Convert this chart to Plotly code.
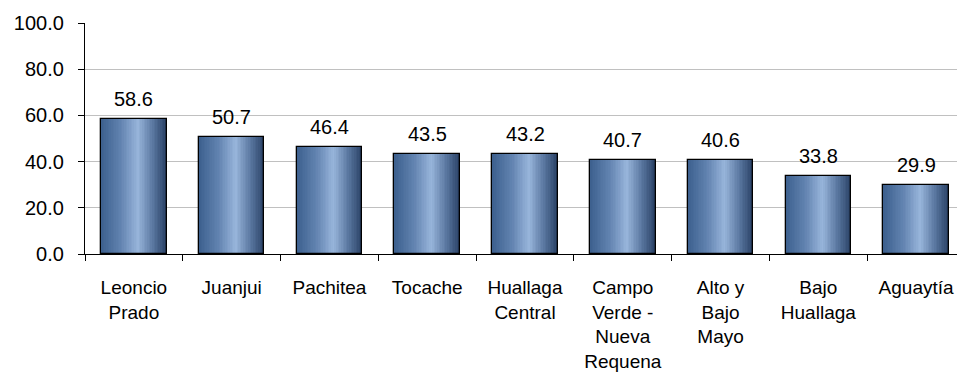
import plotly.graph_objects as go

categories = ["Leoncio<br>Prado", "Juanjui", "Pachitea", "Tocache", "Huallaga<br>Central",
              "Campo<br>Verde -<br>Nueva<br>Requena", "Alto y<br>Bajo<br>Mayo", "Bajo<br>Huallaga", "Aguaytía"]
values = [58.6, 50.7, 46.4, 43.5, 43.2, 40.7, 40.6, 33.8, 29.9]
y_ticks = [0, 20, 40, 60, 80, 100]

FONT = "Liberation Sans, Arial, sans-serif"
FS = 20
BAR_W = 0.67
N = 40
stops = [(0.0, (60, 96, 142)), (0.3, (98, 131, 176)), (0.56, (152, 181, 219)),
         (0.78, (92, 121, 162)), (1.0, (40, 64, 100))]

def grad(t):
    for (t0, c0), (t1, c1) in zip(stops[:-1], stops[1:]):
        if t0 <= t <= t1:
            f = (t - t0) / (t1 - t0)
            return "rgb(%d,%d,%d)" % tuple(round(a + (b - a) * f) for a, b in zip(c0, c1))
    return "rgb(%d,%d,%d)" % stops[-1][1]

fig = go.Figure()
step = BAR_W / N
for k in range(N):
    fig.add_trace(go.Bar(
        x=categories, y=values,
        offset=-BAR_W / 2 + k * step, width=BAR_W - k * step,
        marker=dict(color=grad((k + 0.5) / N), line=dict(width=0)),
        hoverinfo="skip", showlegend=False))
# outline
fig.add_trace(go.Bar(
    x=categories, y=values, offset=-BAR_W / 2, width=BAR_W,
    marker=dict(color="rgba(0,0,0,0)", line=dict(color="black", width=1.3)),
    showlegend=False))

for c, v in zip(categories, values):
    fig.add_annotation(x=c, y=v, text="%.1f" % v, showarrow=False,
                       yanchor="bottom", yshift=7,
                       font=dict(family=FONT, size=FS, color="black"))

# page body has an 8px margin, so the figure is sized/placed to compensate
fig.update_layout(
    width=957, height=366,
    margin=dict(l=77, r=0, t=15, b=120),
    paper_bgcolor="white", plot_bgcolor="white",
    barmode="overlay", bargap=0,
    font=dict(family=FONT, size=FS, color="black"),
)
fig.update_xaxes(
    automargin=False,
    showline=True, linecolor="black", linewidth=1.3,
    ticks="outside", tickson="boundaries", ticklen=6, tickcolor="black", tickwidth=1.3,
    showgrid=False, tickfont=dict(family=FONT, size=19), ticklabelstandoff=16,
)
fig.update_yaxes(
    automargin=False,
    range=[0, 100], tickvals=y_ticks, tickformat=".1f",
    showline=True, linecolor="black", linewidth=1.3,
    ticks="outside", ticklen=6, tickcolor="black", tickwidth=1.3,
    showgrid=True, gridcolor="#c0c0c0", gridwidth=1.3, zeroline=False,
    tickfont=dict(family=FONT, size=FS), ticklabelstandoff=10,
)

fig.write_html("out.html")
